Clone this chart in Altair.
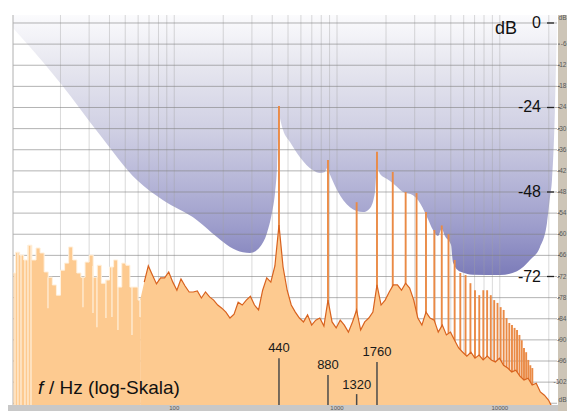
import altair as alt
import pandas as pd

# ---------------- data ----------------
F_MIN, F_MAX = 10.22, 22458.0
DB_MIN, DB_MAX = -110.2, 2.27

# spectrum sampled at semitone frequencies (Hz) and level (dB)
note_f = [10.30, 10.91, 11.56, 12.25, 12.98, 13.75, 14.57, 15.43, 16.35, 17.32, 18.35, 19.45,
          20.60, 21.83, 23.12, 24.50, 25.96, 27.50, 29.14, 30.87, 32.70, 34.65, 36.71, 38.89,
          41.20, 43.65, 46.25, 49.00, 51.91, 55.00, 58.27, 61.74,
          65.41, 69.30, 73.42, 77.78, 82.41, 87.31, 92.50, 98.00, 103.83, 110.00, 116.54, 123.47,
          130.81, 138.59, 146.83, 155.56, 164.81, 174.61, 185.00, 196.00, 207.65, 220.00, 233.08, 246.94,
          261.63, 277.18, 293.66, 311.13, 329.63, 349.23, 369.99, 392.00, 415.30, 440.00, 466.16, 493.88,
          523.25, 554.37, 587.33, 622.25, 659.26, 698.46, 739.99, 783.99, 830.61, 880.00, 932.33, 987.77,
          1046.5, 1108.7, 1174.7, 1244.5, 1318.5, 1396.9, 1480.0, 1568.0, 1661.2, 1760.0, 1864.7, 1975.5,
          2093.0, 2217.5, 2349.3, 2489.0, 2637.0, 2793.8, 2960.0, 3136.0, 3322.4, 3520.0, 3729.3, 3951.1,
          4186.0, 4434.9, 4698.6, 4978.0, 5274.0, 5587.7, 5919.9, 6271.9, 6644.9, 7040.0, 7458.6, 7902.1,
          8372.0, 8869.8, 9397.3, 9956.1, 10548, 11175, 11840, 12544, 13290, 14080, 14917, 15804,
          16744, 17740, 18795, 19912, 21096, 22351]
spec_db = [-71.0, -65.1, -65.9, -67.3, -63.1, -67.3, -63.9, -65.3, -70.7, -72.2, -74.4, -77.3,
           -70.2, -68.2, -63.6, -67.3, -71.0, -72.2, -67.9, -65.9, -72.2, -68.8, -73.9, -73.0,
           -69.3, -67.3, -75.0, -68.2, -68.8, -75.0, -75.0, -78.7,
           -73.6, -69.0, -71.6, -74.1, -72.4, -72.4, -70.7, -73.6, -75.9, -72.7, -74.7, -76.4,
           -76.4, -76.1, -78.1, -76.4, -77.8, -78.7, -80.1, -81.0, -82.1, -83.8, -82.7, -79.3,
           -80.1, -78.7, -77.6, -80.1, -81.5, -75.9, -72.4, -73.6, -69.0, -57.4, -69.3, -75.9,
           -80.1, -82.1, -83.8, -84.9, -82.9, -85.8, -84.4, -83.8, -86.1, -78.7, -84.9, -86.6,
           -84.4, -85.8, -87.8, -84.9, -81.5, -87.2, -84.9, -83.8, -82.1, -74.4, -80.1, -78.7,
           -76.4, -74.4, -74.4, -75.9, -73.9, -75.3, -78.7, -83.8, -85.8, -82.1, -83.8, -84.4,
           -87.8, -85.8, -88.6, -87.8, -90.1, -92.3, -93.5, -94.6, -93.5, -95.2, -94.3, -95.7,
           -94.6, -95.7, -96.3, -95.2, -97.2, -98.0, -99.1, -98.6, -100.3, -101.4, -100.9, -102.8,
           -102.3, -104.8, -105.7, -107.1, -109.4, -110.0]
LOW_COUNT = 32  # coarse (bar-like) low-frequency part

# pale dips inside the coarse low-frequency bars
dip_f = [10.51, 10.96, 11.44, 12.10, 12.63, 13.18, 16.76, 27.5, 31.68, 33.5, 38.06, 41.43, 45.1, 55.0, 61.6]
dip_top = [-71.0, -65.1, -65.9, -67.3, -63.1, -63.1, -72.2, -72.2, -69.0, -72.2, -73.0, -69.3, -75.0, -75.0, -78.7]
dip_bot = [-110, -110, -110, -110, -110, -110, -81.0, -80.7, -82.4, -86.4, -83.8, -83.5, -87.2, -88.6, -83.5]

# harmonic peaks
harm_f = [440, 880, 1320, 1760, 2200, 2640, 3080, 3520, 3960, 4400, 4840, 5280, 5720, 6160, 6600,
          7040, 7480, 7920, 8360, 8800, 9240, 9680, 10120, 10560, 11000, 11440, 11880, 12320, 12760,
          13200, 13640, 14080, 14520, 14960, 15400, 15840]
harm_db = [-23.6, -38.9, -50.9, -36.6, -42.3, -48.0, -48.3, -53.7, -58.8, -57.5, -60.0, -67.3, -71.0,
           -71.6, -73.9, -75.9, -77.3, -75.9, -75.9, -77.3, -78.7, -79.5, -80.7, -81.5, -83.8, -85.2,
           -85.8, -86.6, -87.2, -88.6, -90.1, -92.3, -93.5, -95.7, -97.2, -98.0]

# masking threshold curve
mask_f = [10.22, 13.0, 20.4, 35.0, 59.0, 85, 138, 183, 220, 264, 292, 336, 371, 398, 416,
          428, 436, 440, 446, 466, 514, 592, 712, 786, 843, 870, 895, 1000, 1201, 1444,
          1594, 1711, 1745, 1760, 1836, 2028, 2207, 2543, 2929, 3143, 3570, 3887, 4172, 4400, 4600,
          5013, 5157, 5695, 6843, 10027, 12751, 15326, 17661, 19491, 20340, 20921, 21800, 22200, 22458]
mask_db = [-1.4, -6.8, -17.6, -31.8, -44.6, -50.3, -56.0, -60.8, -63.6, -65.1, -65.3, -63.6, -59.7, -54.0, -48.3,
           -41.0, -30.0, -25.6, -27.0, -30.4, -33.8, -38.1, -41.8, -42.6, -42.3, -41.2, -42.5, -47.4, -52.3, -53.7,
           -52.6, -48.0, -42.5, -41.2, -42.8, -44.3, -45.5, -48.0, -48.9, -50.3, -55.1, -58.8, -60.5, -58.5, -60.5,
           -63.0, -68.0, -70.6, -71.5, -71.6, -70.5, -67.3, -63.6, -56.8, -49.4, -44.6, -25.0, -10.0, -2.0]

grid_f = [20, 30, 40, 50, 60, 70, 80, 90, 100, 200, 300, 400, 500, 600, 700, 800, 900,
          1000, 2000, 3000, 4000, 5000, 6000, 7000, 8000, 9000, 10000, 20000]
grid_db = [0, -6, -12, -18, -24, -30, -36, -42, -48, -54, -60, -66, -72, -78, -84, -90, -96, -102, -108]
big_db = [0, -24, -48, -72]
big_lbl = ["0", "-24", "-48", "-72"]
small_db = [-6, -12, -18, -24, -30, -36, -42, -48, -54, -60, -66, -72, -78, -84, -90, -96, -102]
bottom_f = [100, 1000, 10000]
bottom_lbl = ["100", "1000", "10000"]

tone_f = [440, 880, 1320, 1760]
tone_lbl = ["440", "880", "1320", "1760"]
tone_line_top = [-95.2, -100.0, -105.4, -96.3]
tone_text_db = [-92.3, -97.2, -102.8, -93.5]

# ---------------- chart ----------------
FONT = "Liberation Sans"
ORANGE_FILL = "#fdca90"
ORANGE_LINE = "#d8621e"
W, H = 544, 396

xs = alt.Scale(type="log", domain=[F_MIN, F_MAX], nice=False)
ys = alt.Scale(domain=[DB_MIN, DB_MAX], nice=False, zero=False)


def X(field="f"):
    return alt.X(f"{field}:Q", scale=xs, axis=None)


def Y(field="db"):
    return alt.Y(f"{field}:Q", scale=ys, axis=None)


spec = pd.DataFrame({"f": note_f, "db": spec_db})
low = spec.iloc[:LOW_COUNT]
high = spec.iloc[LOW_COUNT - 1:]

gradient = alt.Gradient(
    gradient="linear",
    stops=[alt.GradientStop(color="#fbfbfd", offset=0),
           alt.GradientStop(color="#e6e6ef", offset=0.2),
           alt.GradientStop(color="#cfcfe3", offset=0.45),
           alt.GradientStop(color="#b5b5d7", offset=0.65),
           alt.GradientStop(color="#9c9ccb", offset=0.82),
           alt.GradientStop(color="#7c7cb9", offset=1)],
    x1=0, x2=0, y1=0, y2=1)

mask = alt.Chart(pd.DataFrame({"f": mask_f, "db": mask_db})).mark_area(
    color=gradient, interpolate="monotone", clip=True
).encode(x=X(), y=Y(), y2=alt.datum(DB_MAX))

vgrid = alt.Chart(pd.DataFrame({"f": grid_f})).mark_rule(
    color="#a0a0a0", strokeWidth=1, opacity=0.4).encode(x=X())
hgrid = alt.Chart(pd.DataFrame({"db": grid_db})).mark_rule(
    color="#808080", strokeWidth=1, opacity=0.6).encode(y=Y())
left_edge = alt.Chart(pd.DataFrame({"db": [DB_MAX]})).mark_rule(
    color="#b0b0b0", strokeWidth=1).encode(x=alt.value(0), y=alt.value(0), y2=alt.value(H))

harm = alt.Chart(pd.DataFrame({"f": harm_f, "db": harm_db})).mark_rule(
    color="#ea8a45", strokeWidth=1.9, clip=True
).encode(x=X(), y=Y(), y2=alt.datum(DB_MIN))

low_area = alt.Chart(low).mark_area(color=ORANGE_FILL, interpolate="step", clip=True).encode(
    x=X(), y=Y(), y2=alt.datum(DB_MIN))
high_area = alt.Chart(high).mark_area(color=ORANGE_FILL, interpolate="linear", clip=True).encode(
    x=X(), y=Y(), y2=alt.datum(DB_MIN))
low_line = alt.Chart(low).mark_line(color="#fff1de", strokeWidth=1, interpolate="step", clip=True).encode(
    x=X(), y=Y())
dips = alt.Chart(pd.DataFrame({"f": dip_f, "top": dip_top, "bot": dip_bot})).mark_rule(
    color="#fff1de", strokeWidth=1.2, clip=True).encode(x=X(), y=Y("top"), y2="bot:Q")
high_line = alt.Chart(high.iloc[1:]).mark_line(color=ORANGE_LINE, strokeWidth=1.2, clip=True).encode(
    x=X(), y=Y())

tones = pd.DataFrame({"f": tone_f, "lbl": tone_lbl, "top": tone_line_top, "tdb": tone_text_db})
tone_rules = alt.Chart(tones).mark_rule(color="#4a4a4a", strokeWidth=1.5).encode(
    x=X(), y=Y("top"), y2=alt.value(390))
tone_text = alt.Chart(tones).mark_text(font=FONT, fontSize=13, color="#1a1a1a", baseline="middle").encode(
    x=X(), y=Y("tdb"), text="lbl:N")

# thin bottom frequency strip (inside the drawable area)
bstrip = alt.Chart(pd.DataFrame({"a": [0]})).mark_rect(color="#c8c8c8").encode(
    x=alt.value(-6), x2=alt.value(545), y=alt.value(390), y2=alt.value(H))
blbl = alt.Chart(pd.DataFrame({"f": bottom_f, "t": bottom_lbl})).mark_text(
    font=FONT, fontSize=6, color="#555555", baseline="middle").encode(
    x=X(), y=alt.value(393), text="t:N")

# right dB strip
strip = alt.Chart(pd.DataFrame({"a": [0]})).mark_rect(color="#cdc5b7").encode(
    x=alt.value(545), x2=alt.value(560), y=alt.value(0), y2=alt.value(H))
small_ticks = alt.Chart(pd.DataFrame({"db": small_db})).mark_rule(color="#666666").encode(
    x=alt.value(545), x2=alt.value(547), y=Y())
small_lbl = alt.Chart(pd.DataFrame({"db": small_db, "t": [str(v) for v in small_db]})).mark_text(
    font=FONT, fontSize=6.5, color="#555555", align="right", baseline="middle").encode(
    x=alt.value(553.5), y=Y(), text="t:N")
strip_db = alt.Chart(pd.DataFrame({"t": ["dB", "dB"], "yy": [3, 385]})).mark_text(
    font=FONT, fontSize=6.5, color="#555555", align="right", baseline="middle").encode(
    x=alt.value(553.5), y=alt.Y("yy:Q", scale=None, axis=None), text="t:N")

big = pd.DataFrame({"db": big_db, "t": big_lbl})
big_ticks = alt.Chart(big).mark_rule(color="#222222", strokeWidth=1.3).encode(
    x=alt.value(534), x2=alt.value(541), y=Y())
big_text = alt.Chart(big).mark_text(font=FONT, fontSize=16, color="#111111", align="right",
                                    baseline="middle").encode(x=alt.value(528), y=Y(), text="t:N")

db_title = alt.Chart(pd.DataFrame({"t": ["dB"]})).mark_text(
    font=FONT, fontSize=18, color="#111111", align="center", baseline="middle").encode(
    x=alt.value(493), y=alt.value(14), text="t:N")
f_title = alt.Chart(pd.DataFrame({"t": ["f"]})).mark_text(
    font=FONT, fontSize=19, fontStyle="italic", color="#111111", align="left", baseline="middle").encode(
    x=alt.value(25), y=alt.value(373), text="t:N")
hz_title = alt.Chart(pd.DataFrame({"t": ["/ Hz (log-Skala)"]})).mark_text(
    font=FONT, fontSize=19, color="#111111", align="left", baseline="middle").encode(
    x=alt.value(36), y=alt.value(373), text="t:N")

chart = alt.layer(
    mask, vgrid, hgrid, left_edge, harm, low_area, high_area, low_line, dips, high_line,
    bstrip, blbl, tone_rules, tone_text, strip, small_ticks, small_lbl, strip_db,
    big_ticks, big_text, db_title, f_title, hz_title
).properties(
    width=W, height=H,
    padding={"left": 5, "top": 7, "right": 10, "bottom": 0},
    autosize=alt.AutoSizeParams(type="none"),
    background="white",
).configure_view(stroke=None)

chart.save("out.html", embed_options={"renderer": "svg", "actions": False})
